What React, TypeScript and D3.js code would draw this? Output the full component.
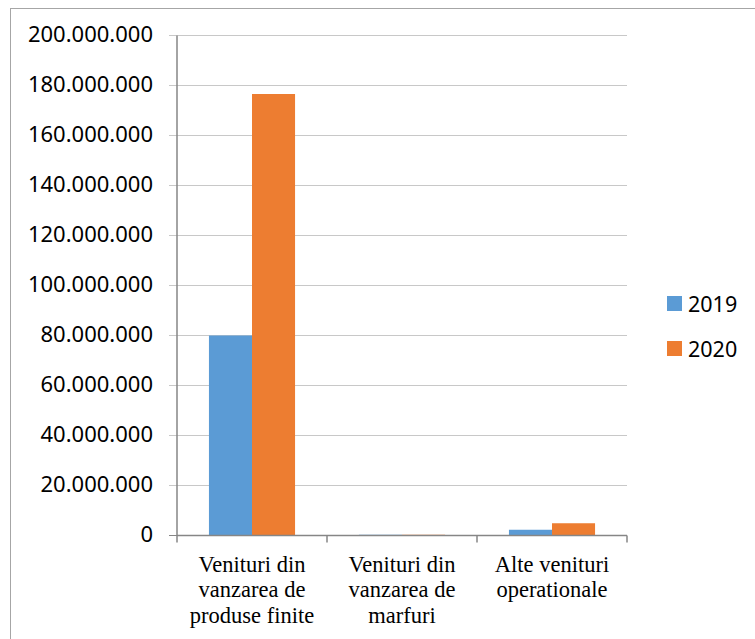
import React from 'react';
import * as d3 from 'd3';

const categories = [
  ['Venituri din', 'vanzarea de', 'produse finite'],
  ['Venituri din', 'vanzarea de', 'marfuri'],
  ['Alte venituri', 'operationale'],
];
const seriesNames = ['2019', '2020'];
const values2019 = [80000000, 300000, 2300000];
const values2020 = [176600000, 300000, 4900000];
const yTicks = [0, 20000000, 40000000, 60000000, 80000000, 100000000, 120000000, 140000000, 160000000, 180000000, 200000000];

const colors = ['#5b9bd5', '#ed7d31'];
const W = 755;
const H = 639;
const plot = { left: 177, right: 627, top: 35.5, bottom: 535.5 };

const fmt = (v: number) => d3.format(',')(v).replace(/,/g, '.');

export default function App() {
  const x0 = d3
    .scaleBand<number>()
    .domain(categories.map((_, i) => i))
    .range([plot.left, plot.right]);
  const gap = x0.bandwidth() * 0.213;
  const x1 = d3
    .scaleBand<string>()
    .domain(seriesNames)
    .range([gap, x0.bandwidth() - gap]);
  const y = d3.scaleLinear().domain([0, 200000000]).range([plot.bottom, plot.top]);
  const series = [values2019, values2020];

  return (
    <svg
      width={W}
      height={H}
      style={{ position: 'absolute', left: 0, top: 0, background: '#fff' }}
    >
      {/* outer frame */}
      <rect x={10.5} y={8.5} width={W} height={H} fill="#fff" stroke="#a6a6a6" strokeWidth={1} />

      {/* gridlines + y labels */}
      {yTicks.map(t => (
        <g key={t}>
          {t > 0 && (
            <line x1={plot.left - 8} x2={plot.right} y1={y(t)} y2={y(t)} stroke="#c8c8c8" strokeWidth={1} />
          )}
          {t === 0 && <line x1={plot.left - 8} x2={plot.left} y1={y(t)} y2={y(t)} stroke="#868686" />}
          <text
            x={153}
            y={y(t)}
            dy="0.3em"
            textAnchor="end"
            fontFamily="'Noto Sans', sans-serif"
            fontSize={22}
            fill="#000"
          >
            {fmt(t)}
          </text>
        </g>
      ))}

      {/* bars */}
      {categories.map((_, ci) =>
        seriesNames.map((s, si) => (
          <rect
            key={`${ci}-${s}`}
            x={x0(ci)! + x1(s)!}
            width={x1.bandwidth()}
            y={y(series[si][ci])}
            height={plot.bottom - y(series[si][ci])}
            fill={colors[si]}
          />
        ))
      )}

      {/* axes */}
      <line x1={plot.left} x2={plot.left} y1={plot.top} y2={plot.bottom} stroke="#868686" strokeWidth={1.5} />
      <line x1={plot.left} x2={plot.right} y1={plot.bottom} y2={plot.bottom} stroke="#868686" strokeWidth={1.5} />
      {d3.range(categories.length + 1).map(i => {
        const xx = plot.left + i * x0.bandwidth();
        return <line key={i} x1={xx} x2={xx} y1={plot.bottom} y2={plot.bottom + 7} stroke="#868686" strokeWidth={1.5} />;
      })}

      {/* category labels */}
      {categories.map((lines, ci) => (
        <text
          key={ci}
          x={x0(ci)! + x0.bandwidth() / 2}
          y={571.5}
          textAnchor="middle"
          fontFamily="'Liberation Serif', 'Times New Roman', serif"
          fontSize={22.5}
          fill="#000"
        >
          {lines.map((l, li) => (
            <tspan key={li} x={x0(ci)! + x0.bandwidth() / 2} dy={li === 0 ? 0 : 25.7}>
              {l}
            </tspan>
          ))}
        </text>
      ))}

      {/* legend */}
      {seriesNames.map((s, i) => (
        <g key={s} transform={`translate(667,${296 + i * 45})`}>
          <rect width={15} height={15} fill={colors[i]} />
          <text x={21} y={15.5} fontFamily="'Noto Sans', sans-serif" fontSize={21.5} fill="#000">
            {s}
          </text>
        </g>
      ))}
    </svg>
  );
}
